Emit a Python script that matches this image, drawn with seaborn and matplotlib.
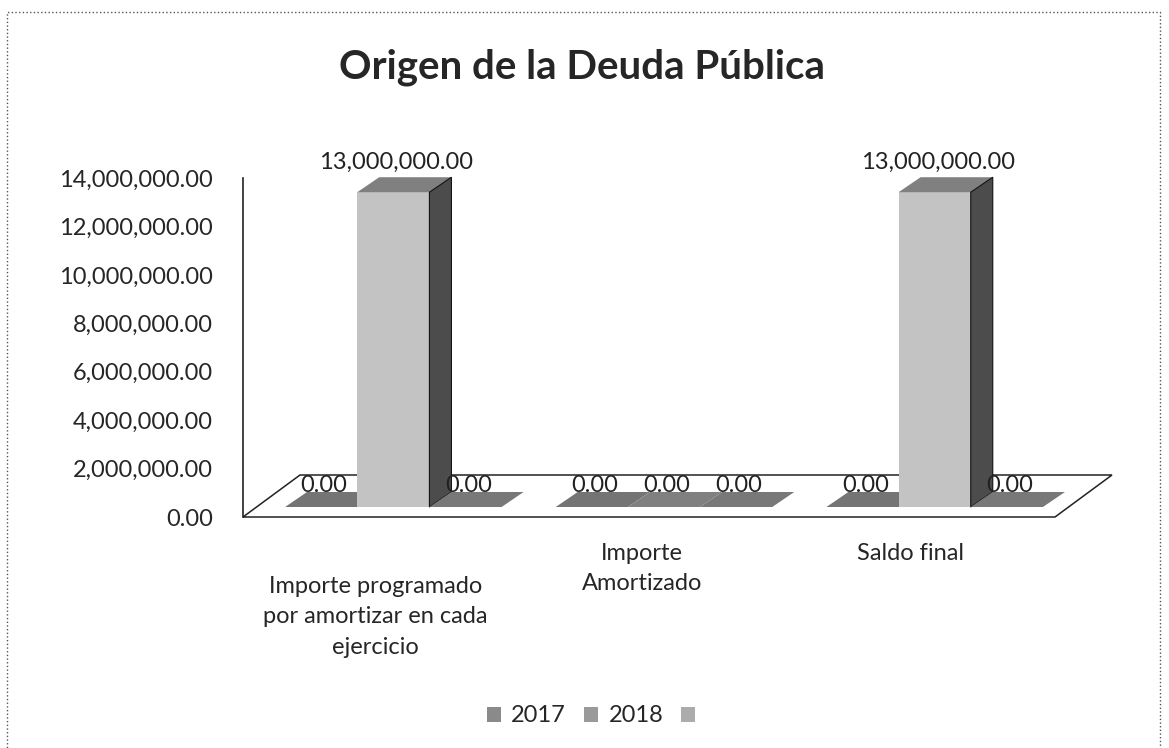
import numpy as np
import pandas as pd
import seaborn as sns
import matplotlib.pyplot as plt
from matplotlib.patches import Polygon, Rectangle, Patch

# datos
categorias = ["Importe programado\npor amortizar en cada\nejercicio",
              "Importe\nAmortizado",
              "Saldo final"]
series = ["2017", "2018", " "]
valores_2017 = [0, 0, 0]
valores_2018 = [13000000, 0, 13000000]
valores_otro = [0, 0, 0]
ticks_y = [0, 2000000, 4000000, 6000000, 8000000, 10000000, 12000000, 14000000]

df = pd.DataFrame({
    "categoria": categorias * 3,
    "serie": [s for s in series for _ in categorias],
    "valor": valores_2017 + valores_2018 + valores_otro,
})

sns.set_style("white")
plt.rcParams["font.family"] = ["Lato", "DejaVu Sans"]

W, H = 1169, 748
fig = plt.figure(figsize=(W / 100, H / 100), dpi=100)
# plot area: front floor edge from x=243 to 1055, y=517 (zero) to 178 (14M)
ax = fig.add_axes([243 / W, 1 - 517 / H, (1055 - 243) / W, (517 - 178) / H])

frente = ["#9a9a9a", "#c3c3c3", "#a8a8a8"]
arriba = ["#747474", "#808080", "#787878"]
lado = ["#5a5a5a", "#4c4c4c", "#5a5a5a"]

sns.barplot(data=df, x="categoria", y="valor", hue="serie", hue_order=series,
            palette=frente, width=0.8, ax=ax, legend=False, saturation=1,
            errorbar=None)

fs = 17
ax.set_xlim(-0.5, 2.5)
ax.set_ylim(0, 14000000)
ax.set_yticks(ticks_y)
ax.set_yticklabels([f"{v:,.2f}" for v in ticks_y], fontsize=fs)
ax.tick_params(axis="y", length=0, pad=21.5)
ax.set_xticks([])
ax.set_xlabel("")
ax.set_ylabel("")
for s in ["top", "right", "bottom"]:
    ax.spines[s].set_visible(False)
ax.spines["left"].set_linewidth(1.2)
ax.spines["left"].set_color("#222222")

# pixel -> data units
sx = 3.0 / (1055 - 243)
sy = 14000000 / (517 - 178)

# floor (3D base)
piso_dx, piso_dy = 57, 42
x0, x1 = ax.get_xlim()
ax.add_patch(Polygon([(x0, 0), (x1, 0), (x1 + piso_dx * sx, piso_dy * sy),
                      (x0 + piso_dx * sx, piso_dy * sy)], closed=True,
                     facecolor="white", edgecolor="#222222", lw=1.1,
                     clip_on=False, zorder=0.5))

# bars: push into middle of floor depth and give them depth
off_x, off_y = 15, 10
prof_x, prof_y = 22, 15
for k, cont in enumerate(ax.containers):
    for bar in cont:
        x = bar.get_x() + off_x * sx
        w = bar.get_width()
        h = bar.get_height()
        y = off_y * sy
        bar.set_x(x)
        bar.set_y(y)
        bar.set_zorder(2 + k)
        bar.set_clip_on(False)
        bar.set_edgecolor("none")
        top = [(x, y + h), (x + w, y + h),
               (x + w + prof_x * sx, y + h + prof_y * sy),
               (x + prof_x * sx, y + h + prof_y * sy)]
        ax.add_patch(Polygon(top, closed=True, facecolor=arriba[k],
                             edgecolor="none", clip_on=False, zorder=2 + k))
        if h > 0:
            side = [(x + w, y), (x + w, y + h),
                    (x + w + prof_x * sx, y + h + prof_y * sy),
                    (x + w + prof_x * sx, y + prof_y * sy)]
            ax.add_patch(Polygon(side, closed=True, facecolor=lado[k],
                                 edgecolor="#111111", lw=0.8, clip_on=False,
                                 zorder=2 + k))
        extra = 4 if h > 0 else -4
        ax.text(x + w / 2 + 3 * sx, y + h + prof_y * sy + extra * sy,
                f"{h:,.2f}", ha="center", va="bottom", fontsize=fs,
                color="#222222", zorder=10, clip_on=False)

# category labels
ax.text(0 - 3 * sx, -59 * sy, categorias[0], ha="center", va="top",
        fontsize=fs, linespacing=1.55, clip_on=False)
ax.text(1 - 7 * sx, -26 * sy, categorias[1], ha="center", va="top",
        fontsize=fs, linespacing=1.55, clip_on=False)
ax.text(2 - 9 * sx, -26 * sy, categorias[2], ha="center", va="top",
        fontsize=fs, linespacing=1.55, clip_on=False)

fig.text(0.498, 1 - 79 / H, "Origen de la Deuda Pública", ha="center",
         va="baseline", fontsize=29, fontweight="bold")

# legend
handles = [Patch(facecolor=c, edgecolor="none") for c in ["#8a8a8a", "#9a9a9a", "#acacac"]]
fig.legend(handles, ["2017", "2018", ""], loc="center", ncol=3,
           bbox_to_anchor=(0.51, 1 - 716 / H), frameon=False, fontsize=fs,
           handlelength=0.6, handleheight=0.6, handletextpad=0.45,
           columnspacing=0.75)

# outer frame (bottom edge runs off the page)
fig.add_artist(Rectangle((7 / W, -0.05), (1160 - 7) / W, 1.05 - 12 / H,
                         transform=fig.transFigure, fill=False,
                         edgecolor="#555555", lw=1.0, ls=":"))

fig.savefig("out.png", dpi=100)
